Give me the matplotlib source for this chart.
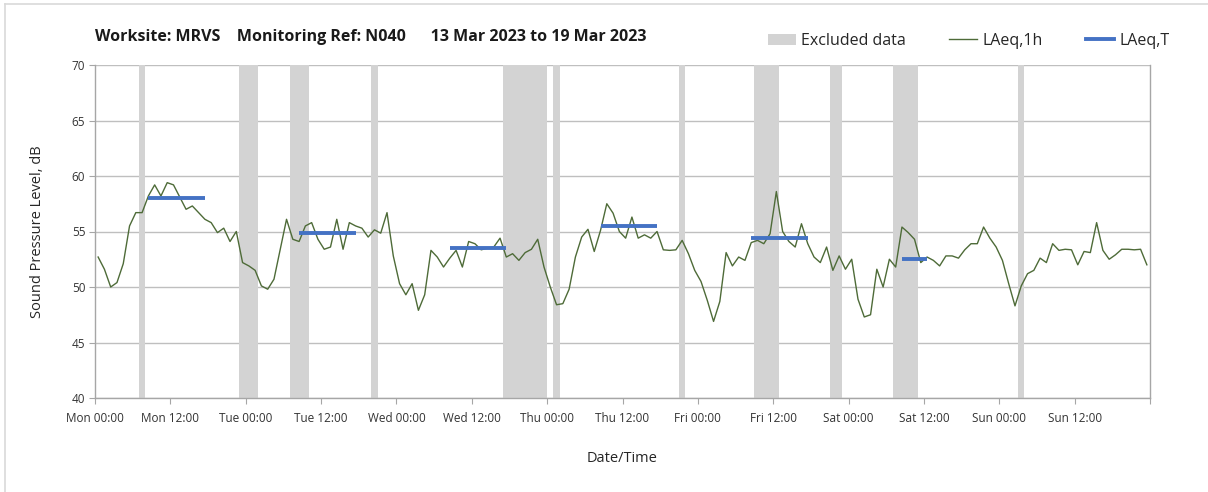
import matplotlib
matplotlib.use("Agg")
import matplotlib.pyplot as plt
from matplotlib.lines import Line2D
from matplotlib.patches import Patch
import numpy as np

plt.rcParams['font.family'] = ['Open Sans', 'DejaVu Sans']

# ---------------- data ----------------
# hourly LAeq,1h values, Mon 00:00 .. Sun 23:00 (plotted at mid-hour)
laeq_1h = [
    52.7, 51.6, 50.0, 50.4, 52.1, 55.5, 56.7, 56.7, 58.2, 59.2, 58.2, 59.4,
    59.2, 58.1, 57.0, 57.3, 56.7, 56.1, 55.8, 54.9, 55.3, 54.1, 55.0, 52.2,
    51.9, 51.5, 50.1, 49.8, 50.7, 53.4, 56.1, 54.3, 54.1, 55.5, 55.8, 54.3,
    53.4, 53.6, 56.1, 53.4, 55.8, 55.5, 55.3, 54.5, 55.15, 54.85, 56.7, 52.8,
    50.3, 49.3, 50.3, 47.9, 49.3, 53.3, 52.7, 51.8, 52.6, 53.3, 51.8, 54.1,
    53.9, 53.35, 53.5, 53.6, 54.4, 52.7, 53.0, 52.4, 53.1, 53.4, 54.3, 51.8,
    50.0, 48.4, 48.5, 49.8, 52.7, 54.5, 55.2, 53.2, 55.1, 57.5, 56.65, 55.0,
    54.4, 56.3, 54.4, 54.7, 54.4, 55.0, 53.35, 53.3, 53.35, 54.2, 53.0, 51.5,
    50.5, 48.8, 46.9, 48.7, 53.1, 51.9, 52.7, 52.4, 54.0, 54.2, 53.9, 54.8,
    58.6, 55.0, 54.1, 53.6, 55.7, 53.9, 52.7, 52.2, 53.6, 51.5, 52.8, 51.6,
    52.5, 48.9, 47.3, 47.5, 51.6, 50.0, 52.5, 51.8, 55.4, 54.9, 54.3, 52.2,
    52.7, 52.4, 51.9, 52.8, 52.8, 52.6, 53.35, 53.9, 53.9, 55.4, 54.4, 53.6,
    52.4, 50.3, 48.3, 50.1, 51.2, 51.5, 52.6, 52.2, 53.9, 53.3, 53.4, 53.35,
    52.0, 53.2, 53.1, 55.8, 53.3, 52.5, 52.9, 53.4, 53.4, 53.35, 53.4, 52.0,
]

# LAeq,T period averages (start hour, end hour, level)
laeqT_start = [8, 32, 56, 80, 104, 128]
laeqT_end = [17, 41, 65, 89, 113, 132]
laeqT_value = [58.0, 54.9, 53.55, 55.5, 54.4, 52.5]

# excluded data periods (start hour, end hour)
excl_start = [7, 23, 31, 44, 65, 73, 93, 105, 117, 127, 147]
excl_end = [8, 26, 34, 45, 72, 74, 94, 109, 119, 131, 148]

tick_labels = ["Mon 00:00", "Mon 12:00", "Tue 00:00", "Tue 12:00",
               "Wed 00:00", "Wed 12:00", "Thu 00:00", "Thu 12:00",
               "Fri 00:00", "Fri 12:00", "Sat 00:00", "Sat 12:00",
               "Sun 00:00", "Sun 12:00", ""]

title_text = "Worksite: MRVS    Monitoring Ref: N040      13 Mar 2023 to 19 Mar 2023"

# ---------------- figure ----------------
W, H = 1208, 492
fig = plt.figure(figsize=(W / 100, H / 100), dpi=100)
ax = fig.add_axes([95 / W, 1 - 398 / H, (1150 - 95) / W, (398 - 65) / H])

band_color = '#D3D3D3'
for s, e in zip(excl_start, excl_end):
    ax.axvspan(s, e, color=band_color, lw=0, zorder=1)

hours = np.arange(len(laeq_1h)) + 0.5
ax.plot(hours, laeq_1h, color='#4E6B38', lw=1.0, zorder=3)

for s, e, v in zip(laeqT_start, laeqT_end, laeqT_value):
    ax.plot([s + 0.5, e + 0.5], [v, v], color='#4472C4', lw=2.8,
            solid_capstyle='butt', zorder=4)

ax.set_xlim(0, 168)
ax.set_ylim(40, 70)
ax.set_xticks(np.arange(0, 169, 12))
ax.set_xticklabels(tick_labels)
ax.set_yticks(np.arange(40, 71, 5))
ax.set_xticks(np.arange(0, 169, 24), minor=True)

ax.grid(axis='y', which='major', color='#BFBFBF', lw=1.0, zorder=0)
ax.grid(axis='x', which='minor', color='#E3E3E3', lw=1.0, zorder=0)
ax.set_axisbelow(True)

for side in ['left', 'bottom', 'right']:
    ax.spines[side].set_color('#A6A6A6')
    ax.spines[side].set_linewidth(1.0)
ax.spines['top'].set_visible(False)

ax.tick_params(axis='both', which='major', length=4, color='#A6A6A6',
               labelsize=8.5, labelcolor='#333333', pad=3)
ax.tick_params(axis='x', which='minor', length=0)
ax.tick_params(axis='x', pad=6)

ax.set_ylabel("Sound Pressure Level, dB", fontsize=10.5, color='#262626', labelpad=19)
ax.set_xlabel("Date/Time", fontsize=10.5, color='#262626', labelpad=19)

fig.text(95 / W, 1 - 37 / H, title_text, fontsize=11.5, fontweight='bold',
         color='#1a1a1a', ha='left', va='center')

handles = [Patch(facecolor=band_color, edgecolor='none'),
           Line2D([], [], color='#4E6B38', lw=1.0),
           Line2D([], [], color='#4472C4', lw=2.8)]
fig.legend(handles, ["Excluded data", "LAeq,1h", "LAeq,T"], ncol=3,
           frameon=False, loc='center right', bbox_to_anchor=(1176 / W, 1 - 41 / H),
           fontsize=11.5, handlelength=1.75, handletextpad=0.35, columnspacing=2.7,
           labelcolor='#262626', borderaxespad=0)

# outer chart border (left and top visible)
fig.add_artist(Line2D([5 / W, 5 / W], [0, 1 - 4 / H], transform=fig.transFigure,
                      color='#D9D9D9', lw=1.2))
fig.add_artist(Line2D([5 / W, 1], [1 - 4 / H, 1 - 4 / H], transform=fig.transFigure,
                      color='#D9D9D9', lw=1.2))

fig.savefig("out.png", dpi=100)
